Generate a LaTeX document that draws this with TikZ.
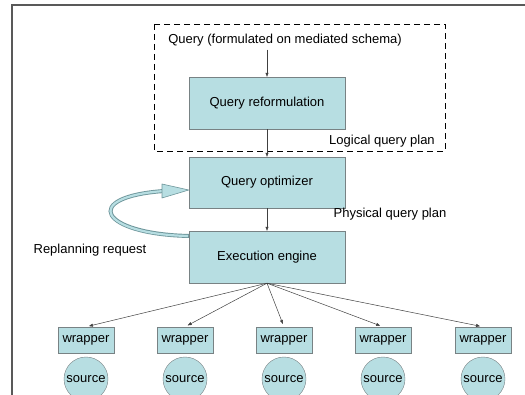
\documentclass[tikz,border=0pt]{standalone}
\usepackage{fontspec}
\setmainfont{Liberation Sans}
\usetikzlibrary{arrows.meta}
\definecolor{boxfill}{RGB}{183,222,226}
\definecolor{boxline}{RGB}{120,130,132}
\definecolor{bandline}{RGB}{110,150,155}

\begin{document}
\begin{tikzpicture}[x=1pt, y=-1pt, >={Triangle[length=4pt,width=3pt]},
    every node/.style={font=\fontsize{13}{15}\selectfont},
    box/.style={rectangle, draw=boxline, fill=boxfill, minimum width=156pt, minimum height=52pt, inner sep=0pt},
    wrap/.style={rectangle, draw=boxline, fill=boxfill, minimum width=56pt, minimum height=26pt, inner sep=0pt},
    src/.style={circle, draw=boxline, fill=boxfill, minimum size=44pt, inner sep=0pt},
    conn/.style={draw=black!75, line width=0.5pt, ->}]
    \useasboundingbox (0,0) rectangle (525,395);
    % frame
    \draw[black!65, line width=1.5pt] (525,5) -- (12,5) -- (12,395);
    % logical plan
    \draw[dashed, dash pattern=on 6pt off 4pt, line width=0.8pt] (154,24) rectangle (445,151);
    \node (q) at (285,40) {Query (formulated on mediated schema)};
    \node[box] (ref) at (267,103) {Query reformulation};
    \node (lqp) at (382,141) {Logical query plan};
    \node[box, minimum height=51pt] (opt) at (267,182.5) {Query optimizer};
    \node (pqp) at (390,214) {Physical query plan};
    \node[box] (exe) at (267,257) {Execution engine};
    \node (rep) at (90,250) {Replanning request};
        \draw[conn] (ref.north |- q.south) -- (ref.north);
        \draw[conn] (ref) -- (opt);
        \draw[conn] (opt) -- (exe);
    % replanning loop
    \draw[bandline, line width=4pt] (189,236) .. controls (100,234) and (80,197) .. (164,191);
    \draw[boxfill, line width=2.2pt] (188,236) .. controls (100,234) and (80,197) .. (164,191);
    \draw[bandline, fill=boxfill, line width=0.6pt, line join=round] (162,184) -- (opt.west |- 0,190) -- (162,198) -- cycle;
    % wrappers and sources
    \foreach \i/\x in {1/86,2/185,3/284,4/383,5/483} {
        \node[wrap] (w\i) at (\x,340) {wrapper};
        \node[src] (s\i) at (\x,379) {source};
        \draw[conn, shorten >=3pt] (exe.south) -- (w\i.north);
    }
\end{tikzpicture}
\end{document}
